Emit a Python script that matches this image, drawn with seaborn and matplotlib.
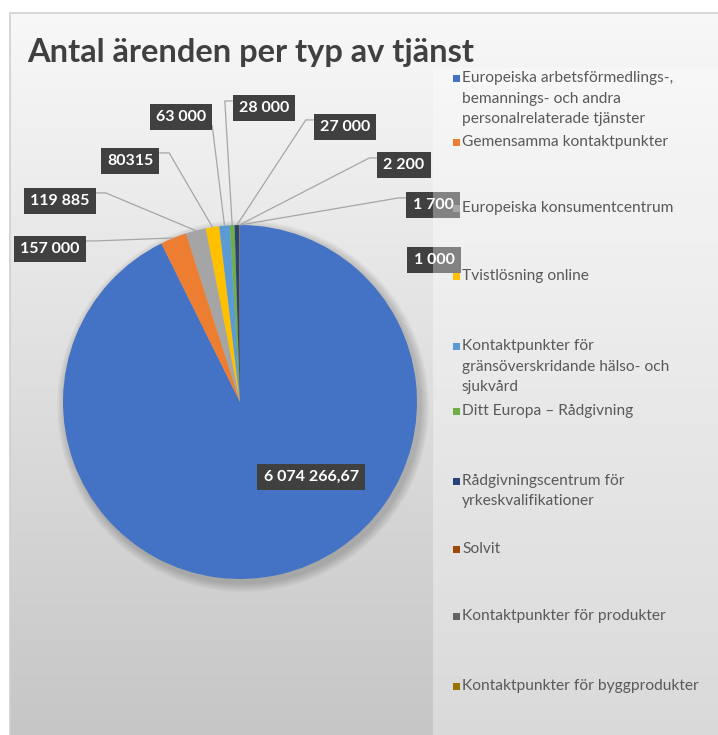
import textwrap
import numpy as np
import matplotlib
matplotlib.use("Agg")
import matplotlib.pyplot as plt
from matplotlib.colors import to_rgb
from matplotlib.patches import Rectangle, Circle
import seaborn as sns

# ---------------- data ----------------
categories = [
    "Europeiska arbetsförmedlings-, bemannings- och andra personalrelaterade tjänster",
    "Gemensamma kontaktpunkter",
    "Europeiska konsumentcentrum",
    "Tvistlösning online",
    "Kontaktpunkter för gränsöverskridande hälso- och sjukvård",
    "Ditt Europa – Rådgivning",
    "Rådgivningscentrum för yrkeskvalifikationer",
    "Solvit",
    "Kontaktpunkter för produkter",
    "Kontaktpunkter för byggprodukter",
]
values = [6074266.67, 157000, 119885, 80315, 63000, 28000, 27000, 2200, 1700, 1000]
value_labels = ["6 074 266,67", "157 000", "119 885", "80315", "63 000",
                "28 000", "27 000", "2 200", "1 700", "1 000"]
title = "Antal ärenden per typ av tjänst"

palette = sns.color_palette(["#4472C4", "#ED7D31", "#A5A5A5", "#FFC000", "#5B9BD5",
                             "#70AD47", "#264478", "#9E480E", "#636363", "#997300"])

sns.set_style("white")
plt.rcParams["font.family"] = ["Lato", "DejaVu Sans"]

W, H = 718, 735
fig = plt.figure(figsize=(W / 100, H / 100), dpi=100)
fig.patch.set_facecolor("white")

def Y(y):
    return H - y

# background axes with gradient
bg = fig.add_axes([0, 0, 1, 1], zorder=0)
bg.set_xlim(0, W); bg.set_ylim(0, H); bg.axis("off")
top_c = np.array(to_rgb("#f8f8f8")); bot_c = np.array(to_rgb("#c6c6c6"))
t = np.linspace(0, 1, 256)[:, None, None]
grad = top_c[None, None, :] * (1 - t) + bot_c[None, None, :] * t
bg.imshow(grad, extent=[10, W, 0, H - 13], aspect="auto", origin="upper", zorder=0)
bg.add_patch(Rectangle((10, -5), W, H - 13 + 5, fill=False, ec="#d0d0d0", lw=1.2, zorder=1))
bg.set_xlim(0, W); bg.set_ylim(0, H)

# main axes
ax = fig.add_axes([0, 0, 1, 1], zorder=1)
ax.patch.set_alpha(0)

cx, cy, r = 240, Y(402), 177

# soft shadow under pie
for i in range(10):
    ax.add_patch(Circle((cx + 3, cy - 4), r + 1 + i * 0.9, color="black", alpha=0.018, lw=0, zorder=1))

wedges, _ = ax.pie(values, colors=palette, startangle=90, counterclock=False,
                   center=(cx, cy), radius=r, frame=True,
                   wedgeprops=dict(linewidth=0, zorder=2))
ax.set_xlim(0, W); ax.set_ylim(0, H)
ax.axis("off")

# title
ax.text(27, Y(62), title, fontsize=23.5, fontweight="bold", color="#404040",
        ha="left", va="baseline", zorder=5)

# data label positions (layout)
label_pos = [(311, 477), (50, 249), (60, 201), (130, 161), (181, 117),
             (264, 108), (345, 127), (404, 165), (433, 205), (434, 260)]
show_line = [False, True, True, True, True, True, True, True, True, False]

texts = []
for lab, (lx, ly) in zip(value_labels, label_pos):
    texts.append(ax.text(lx, Y(ly), lab, ha="center", va="center", color="white",
                         fontsize=11.5, fontweight="bold", zorder=6,
                         bbox=dict(boxstyle="square,pad=0.38", fc="#404040", ec="none")))

fig.canvas.draw()
renderer = fig.canvas.get_renderer()
inv = ax.transData.inverted()

for w, txt, (lx, ly), sl in zip(wedges, texts, label_pos, show_line):
    if not sl:
        continue
    ang = np.deg2rad((w.theta1 + w.theta2) / 2)
    px, py = cx + r * np.cos(ang), cy + r * np.sin(ang)
    bb = txt.get_bbox_patch().get_window_extent(renderer)
    (x0, y0), (x1, y1) = inv.transform([(bb.x0, bb.y0), (bb.x1, bb.y1)])
    if lx < cx and x1 > px - 20:
        # box almost above the point: leave from bottom-right corner
        xs, ys = [x1, px], [y0 + 5, py]
    elif lx < cx:
        ya = y1 - 5
        xs, ys = [x1, x1 + 10, px], [ya, ya, py]
    else:
        ya = y1 - 6
        xs, ys = [x0, x0 - 8, px], [ya, ya, py]
    ax.plot(xs, ys, color="#a6a6a6", lw=0.9, zorder=4, solid_capstyle="butt")

# legend area overlay
ax.add_patch(Rectangle((433, 0), W - 433, Y(68), fc="white", ec="none", alpha=0.35, zorder=7))

# legend entries (layout positions)
leg_y = [78, 142, 208, 276, 346, 411, 481, 549, 616, 686]
for cat, col, ly in zip(categories, palette, leg_y):
    lines = textwrap.wrap(cat, width=32, break_on_hyphens=False)
    ax.add_patch(Rectangle((453, Y(ly) - 3.5), 7, 7, fc=col, ec="none", zorder=8))
    for k, line in enumerate(lines):
        ax.text(462, Y(ly + 20.5 * k), line, fontsize=11.2, color="#595959",
                ha="left", va="center", zorder=8)

fig.savefig("out.png", dpi=100, facecolor="white")
